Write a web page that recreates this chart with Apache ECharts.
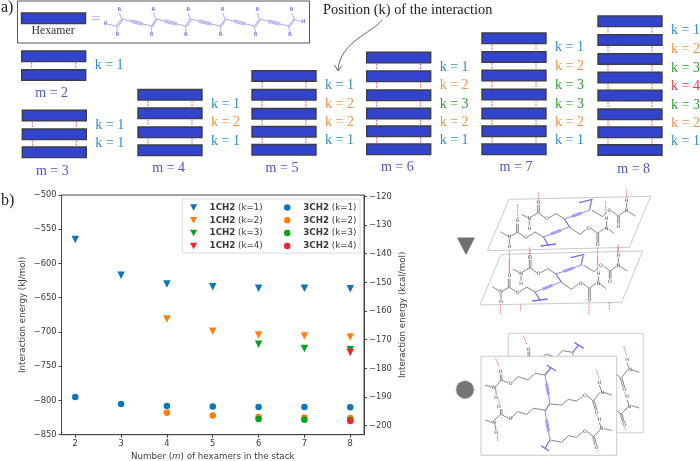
<!DOCTYPE html>
<html><head><meta charset="utf-8">
<style>html,body{margin:0;padding:0;background:#fff}#c{width:700px;height:461px}</style>
<script src="https://cdn.jsdelivr.net/npm/echarts@6/dist/echarts.min.js"></script>
</head><body><div id="c"></div>
<script>
// ---------- chart data ----------
const hexamers = [2,3,4,5,6,7,8];
const mFrom4 = [4,5,6,7,8];
const mFrom6 = [6,7,8];
const mOnly8 = [8];
const ch1_k1 = [-565,-617,-630,-634,-636,-636,-637];
const ch1_k2 = [-681,-699,-704.5,-706,-707.5];
const ch1_k3 = [-718,-724,-726];
const ch1_k4 = [-730];
const ch3_k1 = [-795,-805,-808,-809,-809.5,-809.5,-810];
const ch3_k2 = [-818,-822,-824,-825,-825.5];
const ch3_k3 = [-827,-828,-828.5];
const ch3_k4 = [-830];
const kcalTicks = [-200,-190,-180,-170,-160,-150,-140,-130,-120];
const kColors = ['#0b76b9','#ff7f0e','#0ca01c','#f42233'];
const kTextColors = ['#2f8cc6','#f59043','#2ca02c','#e8353f'];

// ---------- schematic content ----------
const kLists = {2:[1],3:[1,1],4:[1,2,1],5:[1,2,2,1],6:[1,2,3,2,1],7:[1,2,3,3,2,1],8:[1,2,3,4,3,2,1]};
const stackLeft = {2:21.7,3:22.3,4:138,5:252,6:366.7,7:482,8:598};
const stackTops = {
 2:[51,69.7],
 3:[110.3,129,147],
 4:[89.5,108,127,145],
 5:[70.7,89.5,108.5,126.5,144.5],
 6:[52.3,71,90,108.3,126,144],
 7:[33,51.7,70.3,89.3,108.3,126,144],
 8:[16,34.7,53.7,72.3,90.3,109,127,144.7]};
const mLabelPos = {2:[51.7,93.7],3:[52.3,171],4:[168.7,168.7],5:[282,168],6:[397.3,167],7:[516,167],8:[633.7,169]};

const g = [];
const serif = '"Liberation Serif","Times New Roman",serif';
const ln = (pts,color,w,dash,z)=>g.push({type:'polyline',z:z||5,silent:true,shape:{points:pts},
  style:{stroke:color,lineWidth:w,fill:null,lineDash:dash||null}});
const tx = (x,y,s,font,color,align,z,extra)=>g.push({type:'text',x,y,z:z||6,silent:true,
  style:Object.assign({text:s,font,fill:color,align:align||'left',verticalAlign:'middle'},extra||{})});
const rc = (x,y,w,h,fill,stroke,lw,z)=>g.push({type:'rect',z:z||5,silent:true,shape:{x,y,width:w,height:h},
  style:{fill,stroke,lineWidth:lw}});
const RW=64, RH=10.6;
const bar=(x,y)=>rc(x,y,RW,RH,'#3344cc','#3c3c44',1.4);
const kFont='14px '+serif;

// header box
rc(17.5,1,292,42,'#fff','#555',1);
bar(21.5,13);
tx(53,31,'Hexamer','11.8px '+serif,'#333','center');
tx(96,19.5,'=','16px '+serif,'#aeb4ee','center');
tx(1,8,'a)','16px '+serif,'#222');
tx(1,201,'b)','16px '+serif,'#222');
tx(323,10,'Position (k) of the interaction','14.4px '+serif,'#222');

// arrow
g.push({type:'bezierCurve',z:5,silent:true,shape:{x1:382,y1:20,cpx1:372,cpy1:33,cpx2:340,cpy2:42,x2:338,y2:70},style:{stroke:'#444',lineWidth:.8,fill:null}});
ln([[334.5,65],[338,71],[342,65.5]],'#444',.8);

// oligomer (hexamer formula)
const chainCol='#9c9cf2', rCol='#7f86ee';
const mx=x=>x/3+10, my=y=>y/3;
const upX=[335,437,540,645,748,852], loX=[320,425,527,630,733,835];
const rTopX=[328,430,535,638,742,845], rBotX=[322,425,528,632,737,840];
ln([[mx(295),my(73)],[mx(320),my(78)]],chainCol,.9);
upX.forEach((ux,i)=>{
  const lx=loX[i];
  ln([[mx(lx),my(78)],[mx(ux),my(57)]],chainCol,.9);
  ln([[mx(lx+3),my(81)],[mx(ux+3),my(60)]],chainCol,.9);
  ln([[mx(ux),my(57)],[mx(rTopX[i]),my(38)]],chainCol,.8);
  ln([[mx(lx),my(78)],[mx(rBotX[i]),my(98)]],chainCol,.8);
  tx(mx(rTopX[i]),my(30),'R','bold 5px "DejaVu Sans"',rCol,'center');
  tx(mx(rBotX[i]),my(105),'R','bold 5px "DejaVu Sans"',rCol,'center');
  if(i<5){
    const nx=loX[i+1];
    ln([[mx(ux),my(57)],[mx(nx),my(78)]],chainCol,.9);
    const a=ux+26,b=nx-26,ya=my(57+21*26/(nx-ux)),yb=my(78-21*26/(nx-ux));
    ln([[mx(a),ya-1.3],[mx(b),yb-1.3]],chainCol,.8);
    ln([[mx(a),ya+1.3],[mx(b),yb+1.3]],chainCol,.8);
  }
});
ln([[mx(852),my(57)],[mx(872),my(65)]],chainCol,.8);
tx(mx(287),my(72),'H','bold 5px "DejaVu Sans"',rCol,'center');
tx(mx(880),my(65),'H','bold 5px "DejaVu Sans"',rCol,'center');

// stacks
Object.keys(stackTops).forEach(m=>{
  const x=stackLeft[m], tops=stackTops[m], ks=kLists[m];
  tops.forEach(t=>bar(x,t));
  ks.forEach((k,i)=>{
    const y1=tops[i]+RH, y2=tops[i+1], mid=(y1+y2)/2;
    ln([[x+10,y1+.8],[x+10,y2-.5]],'#f05a70',1,[2,1.2]);
    ln([[x+54,y1+.8],[x+54,y2-.5]],'#f05a70',1,[2,1.2]);
    tx(x+RW+9,mid,'k = '+k,kFont,kTextColors[k-1]);
  });
  tx(mLabelPos[m][0],mLabelPos[m][1],'m = '+m,'14px '+serif,'#4a55d6','center');
});

// ---------- molecule sketches (crop coordinates) ----------
const qx=x=>x/3+430, qy=y=>y/3+185;
const blk='#555', blu='#6f6ff0', red='#f0566a';
function seg(pts,dx,dy,col,w,dash,z){ln(pts.map(p=>[qx(p[0]+dx),qy(p[1]+dy)]),col,w,dash,z);}
function atoms(list,dx,dy,z){list.forEach(a=>tx(qx(a[1]+dx),qy(a[2]+dy),a[0],'4.8px "DejaVu Sans"','#333','center',z));}
function triple(a,b,dx,dy,z){
  const nx=-(b[1]-a[1]),ny=b[0]-a[0],L=Math.hypot(nx,ny),ox=nx/L*3,oy=ny/L*3;
  const s=.3,e=.7,p=t=>[a[0]+(b[0]-a[0])*t,a[1]+(b[1]-a[1])*t];
  seg([a,b],dx,dy,blu,.8,null,z);
  seg([[p(s)[0]+ox,p(s)[1]+oy],[p(e)[0]+ox,p(e)[1]+oy]],dx,dy,blu,.7,null,z);
  seg([[p(s)[0]-ox,p(s)[1]-oy],[p(e)[0]-ox,p(e)[1]-oy]],dx,dy,blu,.7,null,z);
}
const molABlack=[
 [[212,140],[232,153]],[[238,160],[238,178]],[[244,152],[262,142],[282,154]],[[294,155],[315,141],[340,156]],
 [[260,142],[260,116]],[[265,142],[265,116]],
 [[275,88],[293,98]],[[298,106],[298,122]],[[303,96],[325,83],[345,98]],[[357,98],[378,86],[403,102]],
 [[323,83],[323,60]],[[328,83],[328,60]],
 [[420,128],[450,148],[470,132]],[[483,130],[503,145],[523,130]],[[536,132],[553,146]],[[501,145],[501,172]],[[506,145],[506,172]],
 [[485,75],[518,95],[530,82]],[[545,78],[565,93],[585,78]],[[596,80],[617,93]],[[563,93],[563,116]],[[568,93],[568,116]],[[590,53],[590,70]],[[530,108],[530,124]]];
const molAAtoms=[['N',238,155],['H',238,185],['O',288,157],['O',263,108],['N',298,100],['H',298,130],['O',351,100],['O',325,53],
 ['O',477,130],['N',530,130],['H',530,102],['O',503,180],['O',538,78],['N',590,76],['H',590,47],['O',565,124]];
const molADash=[[[325,22],[325,48]],[[263,58],[263,100]],[[590,15],[590,40]],[[527,50],[527,88]]];
function molA(dx,dy){
  molABlack.forEach(s=>seg(s,dx,dy,blk,.7));
  atoms(molAAtoms,dx,dy);
  triple([340,156],[415,127],dx,dy);triple([403,102],[478,76],dx,dy);
  seg([[403,102],[420,128]],dx,dy,blu,1.2);seg([[340,156],[356,182]],dx,dy,blu,1.2);
  seg([[332,183],[378,177]],dx,dy,blu,1.3);seg([[478,76],[485,46]],dx,dy,blu,1.2);seg([[447,53],[488,43]],dx,dy,blu,1.3);
  molADash.forEach(s=>seg(s,dx,dy,red,.9,[1.5,1]));
}
const para=(a,col)=>g.push({type:'polygon',z:4,silent:true,shape:{points:a.map(p=>[qx(p[0]),qy(p[1])])},style:{fill:'#fff',stroke:col,lineWidth:.8}});
para([[237,43],[662,34],[598,187],[172,197]],'#bdbdbd');
para([[213,208],[638,198],[575,352],[150,360]],'#bdbdbd');
molA(0,0);molA(-25,165);
[[[238,195],[238,260]],[[298,195],[298,228]],[[503,188],[503,240]],[[563,188],[563,205]],[[211,360],[211,390]],[[272,360],[272,377]],[[477,350],[477,390]],[[538,352],[538,372]]]
 .forEach(s=>seg(s,0,0,red,.9,[1.5,1]));

const molCBlack=[
 [[165,600],[187,607]],[[197,612],[199,630]],[[198,605],[213,585],[235,593]],[[248,590],[265,575],[295,585],[315,565],[345,570]],
 [[211,585],[211,568]],[[216,585],[216,568]],
 [[362,657],[395,660],[415,643],[440,648],[458,633]],[[472,632],[490,648],[510,622]],[[522,622],[545,630]],[[508,600],[513,616]],
 [[488,648],[496,675]],[[493,648],[501,675]],
 [[345,675],[310,670],[290,688],[262,680],[243,700]],[[236,700],[213,688],[192,706]],[[165,705],[187,712]],[[195,718],[198,736]],
 [[211,688],[211,672]],[[216,688],[216,672]],
 [[362,765],[395,772],[415,752],[440,757],[458,740]],[[472,740],[490,755],[510,735]],[[522,730],[545,737]],[[508,712],[513,726]],
 [[488,755],[495,780]],[[493,755],[500,780]]];
const molCAtoms=[['N',192,607],['H',198,637],['O',242,595],['O',212,561],['O',465,632],['N',517,622],['H',508,592],['O',500,683],
 ['O',242,702],['N',192,712],['H',198,743],['O',207,664],['O',465,740],['N',515,732],['H',508,704],['O',500,788]];
const molCDash=[[[197,520],[207,545]],[[498,553],[507,580]],[[206,643],[209,658]],[[203,748],[203,768]],[[500,690],[507,702]],[[500,795],[505,803]]];
function molC(dx,dy,z){
  molCBlack.forEach(s=>seg(s,dx,dy,blk,.7,null,z));
  atoms(molCAtoms,dx,dy,z);
  triple([345,570],[360,655],dx,dy,z);triple([345,678],[360,765],dx,dy,z);
  seg([[345,570],[362,549]],dx,dy,blu,1.2,null,z);seg([[350,540],[378,558]],dx,dy,blu,1.3,null,z);
  seg([[360,655],[345,678]],dx,dy,blu,1.2,null,z);
  seg([[360,765],[345,790]],dx,dy,blu,1.2,null,z);seg([[333,782],[357,798]],dx,dy,blu,1.3,null,z);
  molCDash.forEach(s=>seg(s,dx,dy,red,.9,[1.5,1],z));
}
rc(508.3,333.3,135,99.4,'#fff','#c4c4c4',.8,4);
molC(83,-68,5);
rc(481,356.3,135.7,99,'#fff','#bdbdbd',.8,8);
molC(0,0,9);

// marker keys
g.push({type:'polygon',z:6,silent:true,shape:{points:[[457,237.5],[475,237.5],[466,255]]},style:{fill:'#707070'}});
g.push({type:'circle',z:6,silent:true,shape:{cx:465,cy:389.7,r:9},style:{fill:'#757575',stroke:'#e5a5a5',lineWidth:.6}});

// legend frame
rc(182.3,199,177.7,54,'#fff','#d0d0d0',.8,3);

// ---------- chart ----------
const pairs=(ms,vs)=>ms.map((m,i)=>[m,vs[i]]);
const mk=(name,ms,vs,sym,c)=>({name,type:'scatter',xAxisIndex:0,yAxisIndex:0,data:pairs(ms,vs),symbol:sym,
  symbolRotate:sym==='triangle'?180:0,symbolSize:sym==='triangle'?7.5:6.5,itemStyle:{color:c,opacity:1},silent:true,z:3});
const series=[
 mk('1CH2 (k=1)',hexamers,ch1_k1,'triangle',kColors[0]),
 mk('1CH2 (k=2)',mFrom4,ch1_k2,'triangle',kColors[1]),
 mk('1CH2 (k=3)',mFrom6,ch1_k3,'triangle',kColors[2]),
 mk('1CH2 (k=4)',mOnly8,ch1_k4,'triangle',kColors[3]),
 mk('3CH2 (k=1)',hexamers,ch3_k1,'circle',kColors[0]),
 mk('3CH2 (k=2)',mFrom4,ch3_k2,'circle',kColors[1]),
 mk('3CH2 (k=3)',mFrom6,ch3_k3,'circle',kColors[2]),
 mk('3CH2 (k=4)',mOnly8,ch3_k4,'circle',kColors[3])
];
const ink='#3a3a3a', font='"DejaVu Sans"', fs=8.3, ns=8.7, ls=8.7;
const minus=v=>String(v).replace('-','\u2212');
const downIcon='path://M0 0H10L5 9Z';
const legendBase={orient:'vertical',top:203,itemGap:3.8,itemWidth:10,itemHeight:6.5,selectedMode:false,padding:0,z:5,
  formatter:n=>{const p=n.split(' ');return '{b|'+p[0]+'} {n|'+p[1]+'}';},
  textStyle:{fontFamily:font,fontSize:ls,color:ink,padding:[0,0,0,6],rich:{b:{fontFamily:font,fontSize:ls,fontWeight:'bold',color:ink,height:9.8},n:{fontFamily:font,fontSize:ls,color:ink,height:9.8}}}};
const chart=echarts.init(document.getElementById('c'),null,{renderer:'canvas'});
chart.setOption({
 animation:false,backgroundColor:'#fff',
 grid:{left:61.5,top:195,width:302.5,height:239.7,show:true,borderColor:'#444',borderWidth:1,backgroundColor:'transparent',outerBoundsMode:'none'},
 legend:[
  Object.assign({},legendBase,{left:190,data:series.slice(0,4).map(s=>({name:s.name,icon:downIcon}))}),
  Object.assign({},legendBase,{left:284,data:series.slice(4).map(s=>s.name)})
 ],
 xAxis:{type:'value',min:1.7,max:8.3,name:'Number ({i|m}) of hexamers in the stack',nameLocation:'middle',nameGap:16,
  nameTextStyle:{fontFamily:font,fontSize:ns,color:ink,rich:{i:{fontFamily:font,fontSize:ns,fontStyle:'italic',color:ink}}},
  splitLine:{show:false},axisLine:{lineStyle:{color:'#444',width:1}},
  axisTick:{length:3,lineStyle:{color:'#444'},customValues:hexamers},
  axisLabel:{fontFamily:font,fontSize:fs,color:ink,margin:5,customValues:hexamers}},
 yAxis:[
  {type:'value',min:-850,max:-500,interval:50,name:'Interaction energy (kJ/mol)',nameLocation:'middle',nameGap:34,nameRotate:90,
   nameTextStyle:{fontFamily:font,fontSize:ns,color:ink},splitLine:{show:false},
   axisLine:{show:true,lineStyle:{color:'#444'}},axisTick:{show:true,length:3,lineStyle:{color:'#444'}},
   axisLabel:{fontFamily:font,fontSize:fs,color:ink,margin:5,formatter:minus}},
  {type:'value',min:-850/4.184,max:-500/4.184,position:'right',name:'Interaction energy (kcal/mol)',nameLocation:'middle',nameGap:34,nameRotate:90,
   nameTextStyle:{fontFamily:font,fontSize:ns,color:ink},splitLine:{show:false},
   axisLine:{show:true,lineStyle:{color:'#444'}},axisTick:{show:true,length:3,lineStyle:{color:'#444'},customValues:kcalTicks},
   axisLabel:{fontFamily:font,fontSize:fs,color:ink,margin:5,customValues:kcalTicks,formatter:minus}}
 ],
 graphic:{elements:g},
 series
});
</script></body></html>
